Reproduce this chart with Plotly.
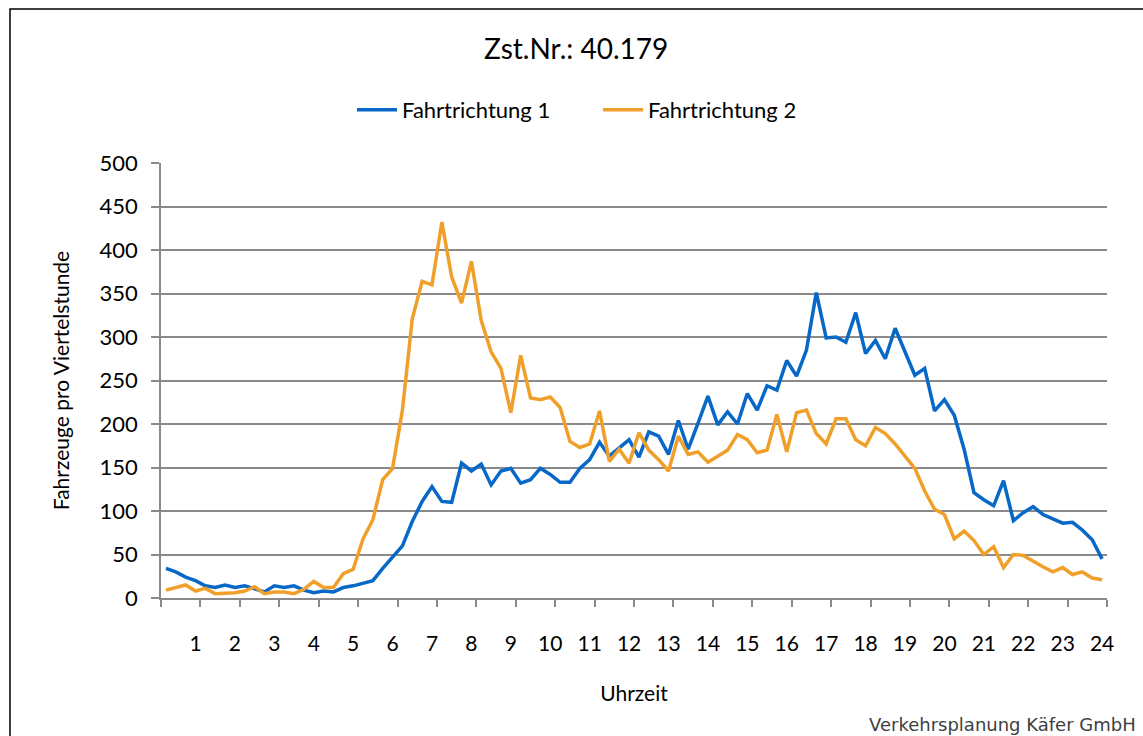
import plotly.graph_objects as go

# quarter-hour intervals, labelled by interval end (hours)
quarter_end = [(i + 1) / 4 for i in range(96)]

fahrtrichtung_1 = [
    34, 30, 24, 20, 14, 12, 15, 12, 14, 11, 7, 14, 12, 14, 9, 6,
    8, 7, 12, 14, 17, 20, 34, 47, 60, 88, 111, 128, 111, 110, 155, 146,
    154, 130, 146, 149, 132, 136, 149, 142, 133, 133, 149, 159, 179, 163, 172, 182,
    162, 191, 186, 165, 204, 171, 201, 232, 199, 214, 200, 235, 216, 244, 239, 273,
    255, 285, 351, 299, 300, 294, 328, 281, 296, 275, 310, 283, 256, 264, 215, 228,
    210, 171, 121, 113, 106, 135, 89, 98, 105, 96, 91, 86, 87, 78, 67, 45,
]

fahrtrichtung_2 = [
    9, 12, 15, 8, 11, 5, 5, 6, 8, 13, 5, 7, 7, 5, 10, 19,
    12, 12, 28, 33, 68, 90, 136, 149, 216, 321, 364, 360, 432, 369, 339, 387,
    319, 283, 264, 213, 279, 230, 228, 231, 219, 180, 173, 177, 215, 157, 171, 155,
    190, 170, 159, 146, 186, 165, 168, 156, 163, 170, 188, 182, 167, 170, 211, 168,
    213, 216, 189, 177, 206, 206, 182, 175, 196, 189, 177, 163, 149, 123, 102, 96,
    68, 77, 66, 50, 59, 35, 50, 49, 42, 36, 30, 35, 27, 30, 23, 21,
]

hour_labels = [str(h) for h in range(1, 25)]
y_ticks = [0, 50, 100, 150, 200, 250, 300, 350, 400, 450, 500]

W, H = 1143, 736
L, R, T, B = 161, 1107, 163, 598  # plot area in pixels


def px(x):
    return (x - L) / (R - L)


def py(y):
    return (B - y) / (B - T)


FONT = "Lato, Calibri, Carlito, sans-serif"
GRID = "#8a8a8a"

fig = go.Figure()
fig.add_trace(go.Scatter(x=quarter_end, y=fahrtrichtung_1, mode="lines",
                         name="Fahrtrichtung 1",
                         line=dict(color="#0868c8", width=3.5)))
fig.add_trace(go.Scatter(x=quarter_end, y=fahrtrichtung_2, mode="lines",
                         name="Fahrtrichtung 2",
                         line=dict(color="#f0a02a", width=3.5)))

fig.update_layout(
    width=W, height=H,
    margin=dict(l=L, r=W - R, t=T, b=H - B),
    paper_bgcolor="white", plot_bgcolor="white",
    font=dict(family=FONT, size=21, color="black"),
    showlegend=True,
    legend=dict(orientation="h", x=px(598), xanchor="center",
                y=py(110), yanchor="middle", font=dict(size=22),
                entrywidth=191, entrywidthmode="pixels",
                itemwidth=40, tracegroupgap=0),
    xaxis=dict(
        range=[0.125, 24.125],
        tickmode="array", tickvals=list(range(1, 25)), ticktext=hour_labels,
        ticks="", showgrid=False, zeroline=False,
        showline=True, linecolor=GRID, linewidth=1.5,
        ticklabelstandoff=26,
        minor=dict(tickmode="array",
                   tickvals=[h + 0.125 for h in range(0, 25)],
                   ticks="outside", ticklen=7, tickwidth=1.5, tickcolor=GRID,
                   showgrid=False),
        title=dict(text="Uhrzeit", standoff=32, font=dict(size=21)),
        tickfont=dict(size=21),
        automargin=False,
    ),
    yaxis=dict(
        range=[0, 500], tickmode="array", tickvals=y_ticks,
        ticks="outside", ticklen=8, tickwidth=1.5, tickcolor=GRID,
        showgrid=True, gridcolor=GRID, gridwidth=1.5,
        zeroline=False, showline=True, linecolor=GRID, linewidth=1.5,
        ticklabelstandoff=9,
        title=dict(text="Fahrzeuge pro Viertelstunde", standoff=24,
                   font=dict(size=21)),
        tickfont=dict(size=22),
        automargin=False,
    ),
    annotations=[
        dict(text="Zst.Nr.: 40.179", x=px(576), y=py(48), xref="paper",
             yref="paper", showarrow=False, xanchor="center",
             yanchor="middle", font=dict(size=28)),
        dict(text="Verkehrsplanung Käfer GmbH", x=px(1138), y=py(724),
             xref="paper", yref="paper", showarrow=False, xanchor="right",
             yanchor="middle",
             font=dict(family="DejaVu Sans", size=18, color="#404040")),
    ],
    shapes=[
        dict(type="rect", xref="paper", yref="paper",
             x0=px(10), x1=px(1160), y0=py(760), y1=py(9),
             line=dict(color="black", width=1.5), layer="below"),
    ],
)

fig.write_html(
    "out.html",
    config={"displayModeBar": False},
    post_script="document.body.style.margin='0';document.body.style.overflow='hidden';",
)
